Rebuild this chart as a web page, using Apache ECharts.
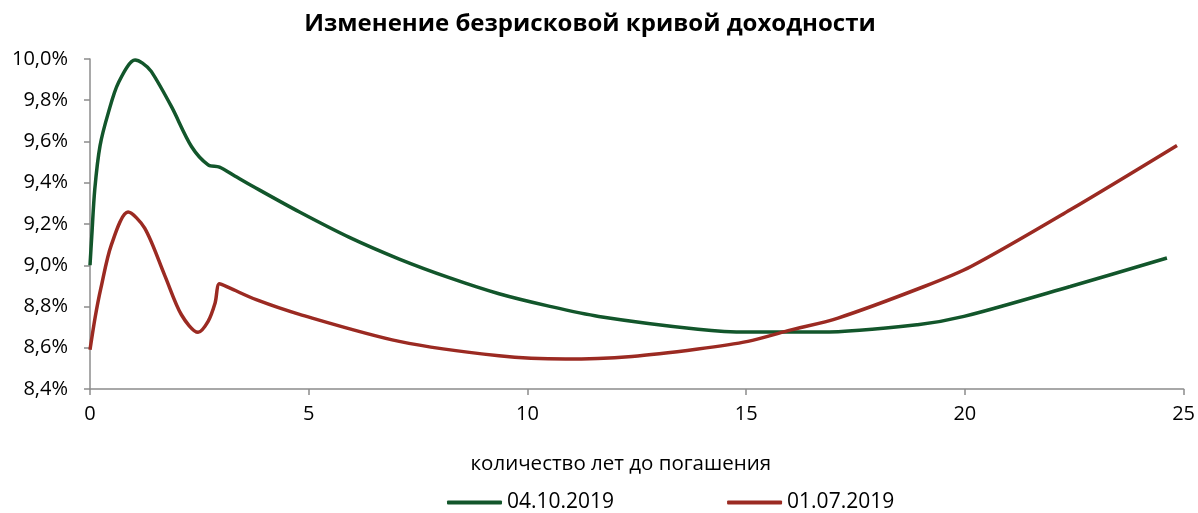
<!DOCTYPE html>
<html>
<head>
<meta charset="utf-8">
<script src="https://cdn.jsdelivr.net/npm/echarts@6/dist/echarts.min.js"></script>
<style>
  html, body { margin: 0; padding: 0; background: #fff; }
  #chart { width: 1198px; height: 513px; }
</style>
</head>
<body>
<div id="chart"></div>
<script>
// Risk-free yield curve: maturity (years) vs yield (%)
const titleText = 'Изменение безрисковой кривой доходности';
const xAxisTitle = 'количество лет до погашения';
const seriesNames = ['04.10.2019', '01.07.2019'];

const octYears = [0, 0.04, 0.11, 0.23, 0.42, 0.65, 1.03, 1.2, 1.4, 1.86, 2.32, 2.70, 2.96, 3.31, 3.72, 4.79, 5.93, 7.07, 8.21, 9.35, 10.49, 11.63, 13.9, 15.04, 16.72, 18.92, 19.98, 22.41, 24.62];
const octYield = [9.00, 9.14, 9.37, 9.58, 9.74, 9.885, 9.995, 9.98, 9.94, 9.77, 9.576, 9.487, 9.476, 9.433, 9.383, 9.258, 9.135, 9.03, 8.94, 8.862, 8.802, 8.752, 8.69, 8.676, 8.676, 8.712, 8.752, 8.897, 9.035];

const julYears = [0, 0.12, 0.25, 0.49, 0.87, 1.25, 1.71, 2.09, 2.47, 2.70, 2.86, 2.96, 3.19, 3.80, 4.79, 7.07, 9.35, 10.87, 12.39, 13.9, 15.04, 15.96, 17.1, 19.07, 20.14, 22.41, 24.85];
const julYield = [8.59, 8.75, 8.89, 9.10, 9.258, 9.18, 8.95, 8.76, 8.675, 8.728, 8.817, 8.91, 8.89, 8.833, 8.762, 8.631, 8.561, 8.545, 8.558, 8.594, 8.631, 8.683, 8.744, 8.897, 8.994, 9.269, 9.581];

const colors = ['#12562b', '#9b2a22'];
const axisGrey = '#8c8c8c';
const font = '"Open Sans", sans-serif';

const pairs = (xs, ys) => xs.map((x, i) => [x, ys[i]]);

const chart = echarts.init(document.getElementById('chart'));
chart.setOption({
  animation: false,
  backgroundColor: '#fff',
  textStyle: { fontFamily: font, color: '#000' },
  title: {
    text: titleText,
    left: 585, textAlign: 'center', top: 7,
    textStyle: { fontFamily: font, fontSize: 24, fontWeight: 'bold', color: '#000' }
  },
  grid: { left: 90, right: 11, top: 59, bottom: 124, containLabel: false },
  xAxis: {
    type: 'value', min: 0, max: 25, interval: 5,
    name: xAxisTitle, nameLocation: 'middle', nameGap: 65,
    nameTextStyle: { fontFamily: font, fontSize: 20.5, color: '#000', padding: [0, 32, 0, 0] },
    axisLine: { show: true, lineStyle: { color: axisGrey, width: 1.5 } },
    axisTick: { show: true, length: 6, lineStyle: { color: axisGrey, width: 1.5 } },
    axisLabel: { margin: 15, fontFamily: font, fontSize: 20, color: '#000' },
    splitLine: { show: false }
  },
  yAxis: {
    type: 'value', min: 8.4, max: 10.0, interval: 0.2,
    axisLine: { show: true, lineStyle: { color: axisGrey, width: 1.5 } },
    axisTick: { show: true, length: 6, lineStyle: { color: axisGrey, width: 1.5 } },
    axisLabel: {
      margin: 22, fontFamily: font, fontSize: 20, color: '#000',
      formatter: v => v.toFixed(1).replace('.', ',') + '%'
    },
    splitLine: { show: false }
  },
  legend: {
    left: 447, top: 492, padding: 0, icon: 'roundRect',
    itemWidth: 55, itemHeight: 4, itemGap: 113,
    textStyle: { fontFamily: font, fontSize: 21, color: '#000' },
    data: seriesNames
  },
  series: [
    {
      name: seriesNames[0], type: 'line', data: pairs(octYears, octYield),
      smooth: 0.3, showSymbol: false, symbol: 'none',
      lineStyle: { color: colors[0], width: 3.5 }, itemStyle: { color: colors[0] }
    },
    {
      name: seriesNames[1], type: 'line', data: pairs(julYears, julYield),
      smooth: 0.3, showSymbol: false, symbol: 'none',
      lineStyle: { color: colors[1], width: 3.5 }, itemStyle: { color: colors[1] }
    }
  ]
});
</script>
</body>
</html>
